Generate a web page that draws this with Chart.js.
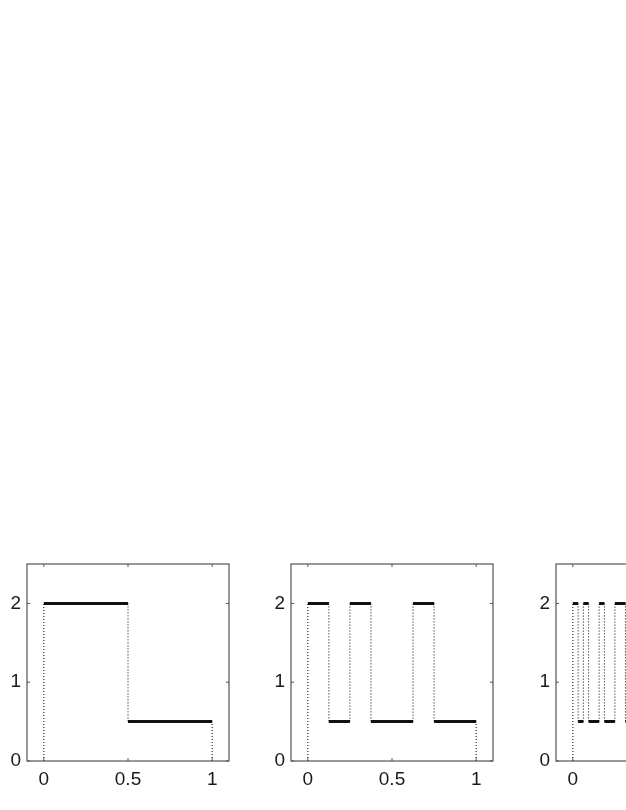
<!DOCTYPE html>
<html>
<head>
<meta charset="utf-8">
<script src="https://cdn.jsdelivr.net/npm/chart.js@4.4.0/dist/chart.umd.min.js"></script>
<style>
  html, body { margin: 0; padding: 0; background: #fff; overflow: hidden; }
  body { width: 626px; height: 810px; position: relative; }
  .panel { position: absolute; top: 554px; width: 237px; height: 256px; }
</style>
</head>
<body>
<div class="panel" style="left:0px"><canvas id="step1"></canvas></div>
<div class="panel" style="left:264px"><canvas id="step2"></canvas></div>
<div class="panel" style="left:529px"><canvas id="step3"></canvas></div>
<script>
// cell values on equal subintervals of [0, 1]
const level1 = [2, 0.5];
const level2 = [2, 0.5, 2, 0.5, 0.5, 2, 0.5, 0.5];
const level3 = [2, 0.5, 2, 0.5, 0.5, 2, 0.5, 0.5,
                2, 2, 0.5, 0.5, 0.5, 2, 0.5, 2,
                0.5, 0.5, 2, 0.5, 0.5, 0.5, 2, 0.5,
                2, 0.5, 0.5, 2, 0.5, 0.5, 2, 0.5];

const xTicks = [0, 0.5, 1];
const yTicks = [0, 1, 2];

function flatParts(vals) {
  const n = vals.length;
  const pts = [];
  for (let i = 0; i < n; i++) {
    pts.push({ x: i / n, y: vals[i] }, { x: (i + 1) / n, y: vals[i] }, { x: (i + 1) / n, y: null });
  }
  return pts;
}

function jumpParts(vals) {
  const n = vals.length;
  const pts = [{ x: 0, y: 0 }, { x: 0, y: vals[0] }, { x: 0, y: null }];
  for (let i = 1; i < n; i++) {
    if (vals[i] !== vals[i - 1]) {
      pts.push({ x: i / n, y: vals[i - 1] }, { x: i / n, y: vals[i] }, { x: i / n, y: null });
    }
  }
  pts.push({ x: 1, y: 0 }, { x: 1, y: vals[n - 1] });
  return pts;
}

// box with small inward ticks on all four sides
const boxFrame = {
  id: "boxFrame",
  afterDraw(chart) {
    const { ctx, chartArea: a, scales } = chart;
    ctx.save();
    ctx.strokeStyle = "#555";
    ctx.lineWidth = 1.2;
    ctx.strokeRect(a.left, a.top, a.right - a.left, a.bottom - a.top);
    ctx.lineWidth = 1;
    ctx.beginPath();
    xTicks.forEach(v => {
      const px = scales.x.getPixelForValue(v);
      ctx.moveTo(px, a.top); ctx.lineTo(px, a.top + 3);
      ctx.moveTo(px, a.bottom); ctx.lineTo(px, a.bottom - 3);
    });
    yTicks.forEach(v => {
      const py = scales.y.getPixelForValue(v);
      ctx.moveTo(a.left, py); ctx.lineTo(a.left + 3, py);
      ctx.moveTo(a.right, py); ctx.lineTo(a.right - 3, py);
    });
    ctx.stroke();
    ctx.restore();
  }
};

const tickFont = { family: "Liberation Sans", size: 19 };

function noMargins(s) {
  s.paddingTop = 0; s.paddingBottom = 0; s.paddingLeft = 0; s.paddingRight = 0;
}

function makeChart(id, vals) {
  new Chart(document.getElementById(id), {
    type: "line",
    data: {
      datasets: [
        {
          data: jumpParts(vals),
          borderColor: "#000",
          borderWidth: 1,
          borderDash: [1, 2],
          pointRadius: 0,
          spanGaps: false,
        },
        {
          data: flatParts(vals),
          borderColor: "#111",
          borderWidth: 3,
          borderCapStyle: "butt",
          pointRadius: 0,
          spanGaps: false,
        },
      ],
    },
    options: {
      responsive: true,
      maintainAspectRatio: false,
      animation: false,
      layout: { padding: { top: 10, right: 8, left: 0, bottom: 0 } },
      plugins: { legend: { display: false }, tooltip: { enabled: false } },
      scales: {
        x: {
          type: "linear",
          min: -0.1,
          max: 1.1,
          afterBuildTicks: s => { s.ticks = xTicks.map(v => ({ value: v })); },
          afterFit: s => { s.height = 49; noMargins(s); },
          grid: { display: false, drawTicks: false, tickLength: 0 },
          border: { display: false },
          ticks: {
            padding: 7,
            color: "#1a1a1a",
            font: tickFont,
            maxRotation: 0,
            callback: v => String(v),
          },
        },
        y: {
          min: 0,
          max: 2.5,
          afterBuildTicks: s => { s.ticks = yTicks.map(v => ({ value: v })); },
          afterFit: s => { s.width = 27; noMargins(s); },
          grid: { display: false, drawTicks: false, tickLength: 0 },
          border: { display: false },
          ticks: {
            padding: 6,
            color: "#1a1a1a",
            font: tickFont,
            callback: v => String(v),
          },
        },
      },
    },
    plugins: [boxFrame],
  });
}

makeChart("step1", level1);
makeChart("step2", level2);
makeChart("step3", level3);
</script>
</body>
</html>
